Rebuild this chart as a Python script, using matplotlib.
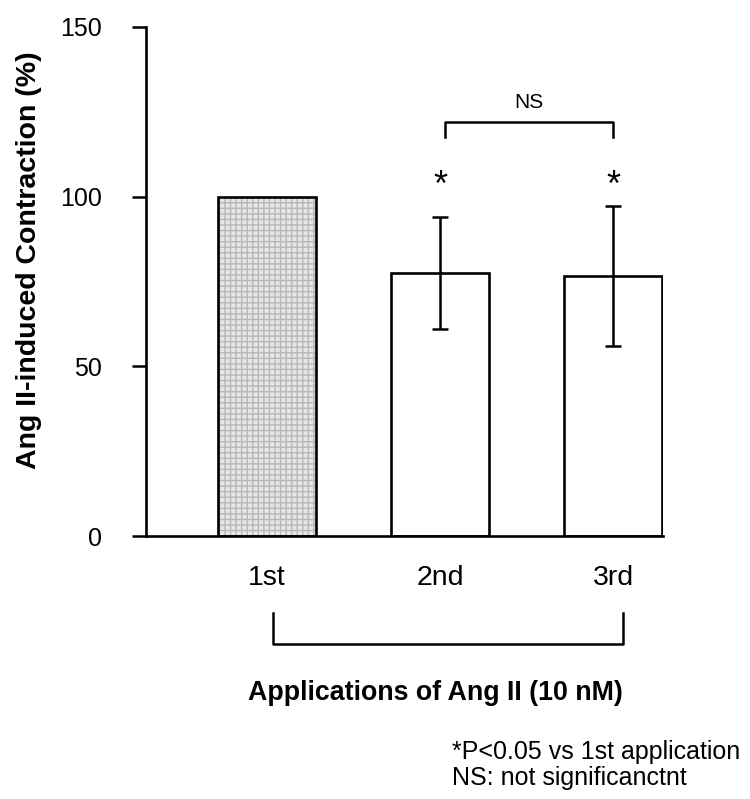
import matplotlib
matplotlib.use("Agg")
import matplotlib.pyplot as plt
import numpy as np

plt.rcParams['font.family'] = ['Liberation Sans', 'DejaVu Sans']

labels = ["1st", "2nd", "3rd"]
means = [100.0, 77.5, 76.6]
errs = [0.0, 16.5, 20.6]
sig = [False, True, True]

fig = plt.figure(figsize=(7.5, 7.99), dpi=100)
ax = fig.add_axes([146 / 750, 263 / 799, 517 / 750, 509 / 799])

x = np.array([1, 2, 3])
w = 0.57

# first bar: light gray checkered fill
ax.bar(x[0], means[0], w, color="#e6e6e6", edgecolor="#b8b8b8", hatch="+++", linewidth=0)
ax.bar(x[0], means[0], w, fill=False, edgecolor="black", linewidth=1.9)
ax.bar(x[1:], means[1:], w, color="white", edgecolor="black", linewidth=1.9)
ax.errorbar(x[1:], means[1:], yerr=errs[1:], fmt="none", ecolor="black",
            elinewidth=1.8, capsize=6, capthick=1.8)

for xi, m, e, s in zip(x, means, errs, sig):
    if s:
        ax.text(xi, 98, "*", ha="center", va="bottom", fontsize=26)

# NS bracket between 2nd and 3rd
ax.plot([2.03, 2.03, 3.0, 3.0], [117.6, 122, 122, 117.6], color="black", lw=1.8, clip_on=False)
ax.text(2.515, 125, "NS", ha="center", va="bottom", fontsize=15)

# bracket under tick labels
ax.plot([1.035, 1.035, 3.06, 3.06], [-22.7, -31.8, -31.8, -22.7], color="black",
        lw=1.8, clip_on=False)

ax.set_xlim(1 - 121 / 173, 3 + 50 / 173)
ax.set_ylim(0, 150)
ax.set_yticks([0, 50, 100, 150])
ax.set_xticks(x)
ax.set_xticklabels(labels, fontsize=20.5)
ax.tick_params(axis="x", length=0, pad=21)
ax.tick_params(axis="y", direction="out", length=10, width=1.8, labelsize=18, pad=22)
for sp in ["top", "right"]:
    ax.spines[sp].set_visible(False)
for sp in ["left", "bottom"]:
    ax.spines[sp].set_linewidth(1.9)

ax.set_ylabel("Ang II-induced Contraction (%)", fontsize=20.5, fontweight="bold")
ax.yaxis.set_label_coords(-0.201, 0.542)
ax.set_xlabel("Applications of Ang II (10 nM)", fontsize=19.3, fontweight="bold")
ax.xaxis.set_label_coords(0.559, -0.283)

fig.text(452 / 750, 1 - 752 / 799, "*P<0.05 vs 1st application", fontsize=18, va="center")
fig.text(452 / 750, 1 - 778 / 799, "NS: not significanctnt", fontsize=18, va="center")

fig.savefig("out.png", dpi=100)
